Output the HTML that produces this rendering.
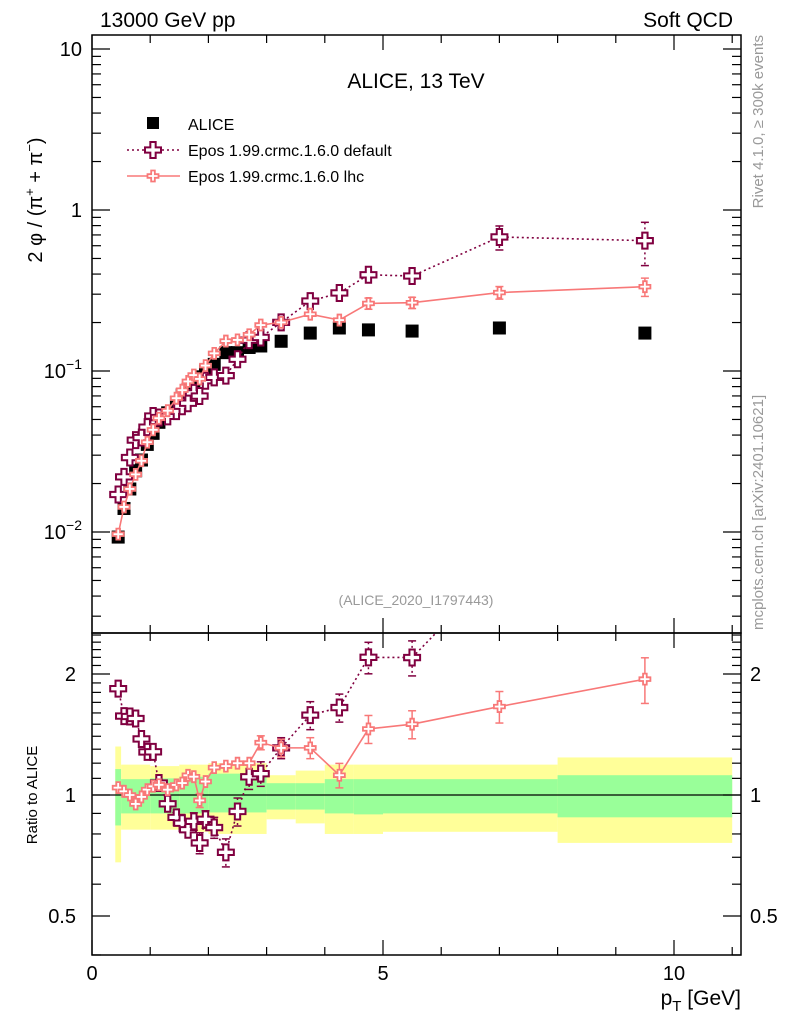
<!DOCTYPE html>
<html><head><meta charset="utf-8"><style>
html,body{margin:0;padding:0;background:#fff;}
svg{display:block;font-family:"Liberation Sans",sans-serif;}
</style></head><body>
<svg id="c" width="786" height="1024" viewBox="0 0 786 1024" xmlns="http://www.w3.org/2000/svg"></svg>
<script>
const pt = [0.45,0.55,0.65,0.75,0.85,0.95,1.05,1.15,1.3,1.45,1.55,1.65,1.75,1.85,1.95,2.1,2.3,2.5,2.7,2.9,3.25,3.75,4.25,4.75,5.5,7.0,9.5];
const alice = [0.0093,0.014,0.0185,0.024,0.028,0.035,0.041,0.048,0.055,0.064,0.071,0.077,0.085,0.092,0.1,0.11,0.13,0.13,0.14,0.143,0.153,0.172,0.185,0.18,0.177,0.185,0.172];
const eposDefault = [0.0171,0.022,0.029,0.0372,0.0386,0.0448,0.0525,0.0514,0.0523,0.0563,0.0604,0.0631,0.0731,0.0699,0.087,0.0913,0.0936,0.1183,0.1554,0.1616,0.2004,0.2718,0.3053,0.396,0.389,0.68,0.645];
const eposLhc = [0.0097,0.0143,0.0185,0.0228,0.0277,0.0361,0.0431,0.0509,0.0567,0.0678,0.076,0.0862,0.0944,0.0892,0.108,0.1287,0.1534,0.156,0.168,0.193,0.2004,0.2253,0.2072,0.2628,0.2655,0.307,0.334];
const defErr = [0.04,0.04,0.04,0.04,0.04,0.04,0.04,0.04,0.04,0.04,0.04,0.04,0.05,0.06,0.05,0.06,0.08,0.08,0.07,0.07,0.06,0.08,0.08,0.09,0.1,0.17,0.3];
const lhcErr = [0.02,0.02,0.02,0.02,0.02,0.02,0.02,0.02,0.02,0.02,0.02,0.03,0.03,0.04,0.03,0.03,0.03,0.03,0.03,0.04,0.05,0.06,0.07,0.08,0.08,0.09,0.13];
const bandEdges = [0.4,0.5,1.0,1.5,2.0,2.5,3.0,3.5,4.0,4.5,5.0,8.0,11.0];
const yellowHi = [1.32,1.19,1.18,1.19,1.2,1.2,1.12,1.15,1.19,1.19,1.19,1.24];
const yellowLo = [0.68,0.82,0.82,0.81,0.8,0.8,0.87,0.85,0.80,0.80,0.81,0.76];
const greenHi = [1.16,1.095,1.10,1.11,1.13,1.13,1.07,1.07,1.095,1.095,1.095,1.12];
const greenLo = [0.84,0.90,0.90,0.90,0.905,0.905,0.92,0.92,0.90,0.895,0.90,0.88];
const xTicks = [0,5,10];
const mainTicks = [0.01,0.1,1,10];
const mainTickLabels = ["10^-2","10^-1","1","10"];
const ratioTicks = [0.5,1,2];
const ratioTickLabels = ["0.5","1","2"];

const NS="http://www.w3.org/2000/svg";
const svg=document.getElementById('c');
const L=92,R=741,T=35,MB=633,RB=955;
const X=v=>L+58.2*v;
const Ym=v=>210-161*Math.log10(v);
const Yr=v=>795-402*Math.log10(v);
function mk(tag,at,parent){const e=document.createElementNS(NS,tag);for(const k in at)e.setAttribute(k,at[k]);(parent||svg).appendChild(e);return e;}

// bands
for(let i=0;i<yellowHi.length;i++){
  const x0=X(bandEdges[i]),x1=X(bandEdges[i+1]);
  const yb=mk('rect',{x:x0,y:Yr(yellowHi[i]),width:x1-x0,height:Yr(yellowLo[i])-Yr(yellowHi[i]),fill:'#ffff99'});
  
  
  const gb=mk('rect',{x:x0,y:Yr(greenHi[i]),width:x1-x0,height:Yr(greenLo[i])-Yr(greenHi[i]),fill:'#99ff99'});
  
  
}
const one=mk('line',{x1:L,x2:R,y1:Yr(1),y2:Yr(1),stroke:'#000','stroke-width':1.3});



// frames
const f1=mk('rect',{x:L,y:T,width:R-L,height:MB-T,fill:'none',stroke:'#000','stroke-width':1.5});


const f2=mk('rect',{x:L,y:MB,width:R-L,height:RB-MB,fill:'none',stroke:'#000','stroke-width':1.5});



// x ticks
for(let v=0;v<=11;v++){
  const maj=xTicks.includes(v);const len=maj?15:8;
  [[MB,-1],[T,1],[RB,-1],[MB,1]].forEach(([y,d])=>{mk('line',{x1:X(v),x2:X(v),y1:y,y2:y+d*len,stroke:'#000','stroke-width':1.2});});
}
xTicks.forEach(v=>{const t=mk('text',{x:X(v),y:980,'font-size':20,'text-anchor':'middle'});t.textContent=v;

});

// main y ticks
for(let d=-3;d<=1;d++){for(let m=1;m<10;m++){const v=m*Math.pow(10,d);const y=Ym(v);if(y<T||y>MB)continue;const len=m===1?18:9;
  mk('line',{x1:L,x2:L+len,y1:y,y2:y,stroke:'#000','stroke-width':1.2});mk('line',{x1:R,x2:R-len,y1:y,y2:y,stroke:'#000','stroke-width':1.2});}}
mainTicks.forEach((v,i)=>{const s=mainTickLabels[i];const t=mk('text',{x:82,y:Ym(v)+7,'font-size':20,'text-anchor':'end'});
 if(s.includes('^')){const [b,e]=s.split('^');t.textContent=b;const ts=mk('tspan',{dy:-9,'font-size':14},t);ts.textContent=e.replace('-','\u2212');}else t.textContent=s;
 
 });

// ratio y ticks
const rt=[0.4,0.5,0.6,0.7,0.8,0.9,1,1.1,1.2,1.3,1.4,1.5,1.6,1.7,1.8,1.9,2,2.1,2.2,2.3,2.4,2.5];
rt.forEach(v=>{const y=Yr(v);if(y<MB||y>RB)return;const len=ratioTicks.includes(v)?18:9;
 mk('line',{x1:L,x2:L+len,y1:y,y2:y,stroke:'#000','stroke-width':1.2});mk('line',{x1:R,x2:R-len,y1:y,y2:y,stroke:'#000','stroke-width':1.2});});
ratioTicks.forEach((v,i)=>{const t=mk('text',{x:76,y:Yr(v)+7,'font-size':20,'text-anchor':'end'});t.textContent=ratioTickLabels[i];


const t2=mk('text',{x:750,y:Yr(v)+7,'font-size':20});t2.textContent=ratioTickLabels[i];

});

// clip paths
const defs=mk('defs',{});
const c1=mk('clipPath',{id:'cm'},defs);mk('rect',{x:L,y:T,width:R-L,height:MB-T},c1);
const c2=mk('clipPath',{id:'cr'},defs);mk('rect',{x:L,y:MB,width:R-L,height:RB-MB},c2);
const gm=mk('g',{'clip-path':'url(#cm)'});const gr=mk('g',{'clip-path':'url(#cr)'});

function cross(g,x,y,s,col,sw,name){const a=s/2,b=s/6;
 const p=mk('path',{d:`M${x-b},${y-a}H${x+b}V${y-b}H${x+a}V${y+b}H${x+b}V${y+a}H${x-b}V${y+b}H${x-a}V${y-b}H${x-b}Z`,fill:'#fff',stroke:col,'stroke-width':sw},g);
 
 }

function series(vals,errs,col,dash,size,sw,name){
 [[gm,Ym,v=>v],[gr,Yr,null]].forEach(([g,Y,_],k)=>{
  const vv=vals.map((v,i)=>k===0?v:v/alice[i]);
  const pl=mk('polyline',{points:vv.map((v,i)=>X(pt[i])+','+Y(v)).join(' '),fill:'none',stroke:col,'stroke-width':1.6,'stroke-dasharray':dash},g);
  
  
  vv.forEach((v,i)=>{const x=X(pt[i]);const e=errs[i];
   const y1=Y(v*(1+e)),y2=Y(v*(1-e));
   if(y2-y1>size){mk('line',{x1:x,x2:x,y1:y1,y2:y2,stroke:col,'stroke-width':1.5,'stroke-dasharray':dash},g);
    mk('line',{x1:x-4,x2:x+4,y1:y1,y2:y1,stroke:col,'stroke-width':1.5},g);mk('line',{x1:x-4,x2:x+4,y1:y2,y2:y2,stroke:col,'stroke-width':1.5},g);}
   cross(g,x,Y(v),size,col,sw,name+'-marker');});
 });
}
alice.forEach((v,i)=>{const r=mk('rect',{x:X(pt[i])-6.5,y:Ym(v)-6.5,width:13,height:13,fill:'#000'},gm);
 
 });
series(eposDefault,defErr,'#800040','2,3',16,2,'epos-default');
series(eposLhc,lhcErr,'#f87878','',11,1.8,'epos-lhc');

// texts
function txt(s,at,name){const t=mk('text',at);t.textContent=s;return t;}
txt('13000 GeV pp',{x:100,y:27,'font-size':21},'beam-label');
txt('Soft QCD',{x:733,y:27,'font-size':21,'text-anchor':'end'},'process-label');
txt('ALICE, 13 TeV',{x:416,y:88,'font-size':21,'text-anchor':'middle'},'plot-title');
txt('(ALICE_2020_I1797443)',{x:416,y:605,'font-size':14,fill:'#999','text-anchor':'middle'},'analysis-id');
// legend
const lr=mk('rect',{x:147,y:117,width:12,height:12,fill:'#000'});
txt('ALICE',{x:188,y:130,'font-size':16},'legend-alice');
mk('line',{x1:127,x2:180,y1:150,y2:150,stroke:'#800040','stroke-width':1.6,'stroke-dasharray':'2,3'});
cross(svg,153,150,16,'#800040',2,'legend-default-marker');
txt('Epos 1.99.crmc.1.6.0 default',{x:188,y:156,'font-size':16},'legend-epos-default');
mk('line',{x1:127,x2:180,y1:176,y2:176,stroke:'#f87878','stroke-width':1.6});
cross(svg,153,176,11,'#f87878',1.8,'legend-lhc-marker');
txt('Epos 1.99.crmc.1.6.0 lhc',{x:188,y:182,'font-size':16},'legend-epos-lhc');
// axis titles
const yt=txt('',{transform:'translate(42,200) rotate(-90)','font-size':20,'text-anchor':'middle'},'y-axis-title');
yt.innerHTML='2 \u03c6 / (\u03c0<tspan dy="-8" font-size="13">+</tspan><tspan dy="8"> + \u03c0</tspan><tspan dy="-8" font-size="13">\u2212</tspan><tspan dy="8">)</tspan>';
txt('Ratio to ALICE',{transform:'translate(37,795) rotate(-90)','font-size':15,'text-anchor':'middle'},'ratio-axis-title');
const xt=txt('',{x:741,y:1005,'font-size':21,'text-anchor':'end'},'x-axis-title');
xt.innerHTML='p<tspan dy="6" font-size="15">T</tspan><tspan dy="-6"> [GeV]</tspan>';
txt('Rivet 4.1.0, \u2265 300k events',{transform:'translate(763,35) rotate(-90)','font-size':15,fill:'#999','text-anchor':'end'},'rivet-label');
txt('mcplots.cern.ch [arXiv:2401.10621]',{transform:'translate(763,630) rotate(-90)','font-size':15,fill:'#999','text-anchor':'start'},'mcplots-label');
</script>
</body></html>
